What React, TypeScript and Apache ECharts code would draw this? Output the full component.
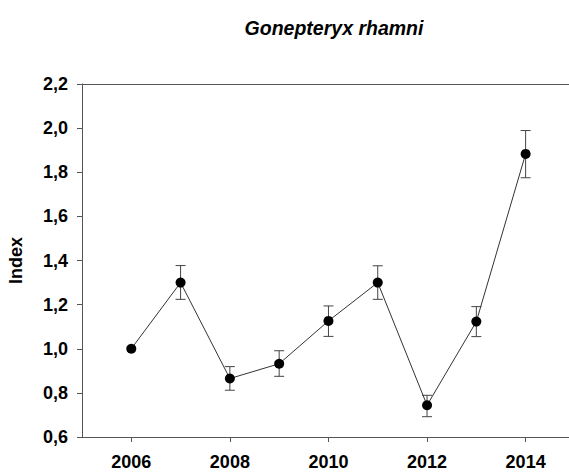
import React, { useEffect, useRef } from "react";
import * as echarts from "echarts";

const years = [2006, 2007, 2008, 2009, 2010, 2011, 2012, 2013, 2014];
const indexValues = [1.0, 1.3, 0.865, 0.932, 1.126, 1.3, 0.744, 1.123, 1.883];
const errLow = [1.0, 1.224, 0.812, 0.875, 1.056, 1.224, 0.692, 1.055, 1.775];
const errHigh = [1.0, 1.377, 0.919, 0.991, 1.194, 1.376, 0.789, 1.191, 1.989];
const xTickValues = [2006, 2008, 2010, 2012, 2014];
const xMin = 2005;
const xMax = 2014.88;
const titleText = "Gonepteryx rhamni";
const yAxisName = "Index";

const FONT = "'Liberation Sans', Arial, sans-serif";

export default function App() {
  const ref = useRef<HTMLDivElement>(null);
  useEffect(() => {
    if (!ref.current) return;
    const chart = echarts.init(ref.current, undefined, { renderer: "svg" });
    const errData = years
      .map((y, i) => [y, errLow[i], errHigh[i]])
      .filter((d) => d[2] - d[1] > 0.001);
    chart.setOption({
      animation: false,
      backgroundColor: "#ffffff",
      title: {
        text: titleText,
        left: 329,
        top: 13,
        textAlign: "center",
        textStyle: {
          fontFamily: FONT,
          fontSize: 19.5,
          fontWeight: "bold",
          fontStyle: "italic",
          color: "#000",
        },
      },
      grid: {
        left: 82,
        top: 84,
        right: 0,
        bottom: 38,
        containLabel: false,
        outerBoundsMode: "none",
        show: false,
      },
      xAxis: [
        {
          type: "value",
          min: xMin,
          max: xMax,
          splitLine: { show: false },
          axisLine: { show: true, lineStyle: { color: "#555", width: 1 } },
          axisTick: {
            show: true,
            customValues: xTickValues,
            length: 5,
            lineStyle: { color: "#555" },
          },
          axisLabel: {
            customValues: xTickValues,
            margin: 16,
            fontFamily: FONT,
            fontSize: 18,
            fontWeight: "bold",
            color: "#000",
            formatter: (v: number) => String(v),
          },
        },
        {
          type: "value",
          position: "top",
          min: xMin,
          max: xMax,
          splitLine: { show: false },
          axisLine: { show: true, onZero: false, lineStyle: { color: "#555", width: 1 } },
          axisTick: { show: false },
          axisLabel: { show: false },
        },
      ],
      yAxis: {
        type: "value",
        min: 0.6,
        max: 2.2,
        interval: 0.2,
        name: yAxisName,
        nameLocation: "middle",
        nameGap: 57,
        nameTextStyle: {
          fontFamily: FONT,
          fontSize: 18,
          fontWeight: "bold",
          color: "#000",
        },
        splitLine: { show: false },
        axisLine: { show: true, lineStyle: { color: "#555", width: 1 } },
        axisTick: { show: true, length: 5, lineStyle: { color: "#555" } },
        axisLabel: {
          margin: 14,
          fontFamily: FONT,
          fontSize: 18,
          fontWeight: "bold",
          color: "#000",
          formatter: (v: number) => v.toFixed(1).replace(".", ","),
        },
      },
      series: [
        {
          type: "custom",
          data: errData,
          z: 1,
          renderItem: (params: any, api: any) => {
            const x = api.value(0);
            const lo = api.coord([x, api.value(1)]);
            const hi = api.coord([x, api.value(2)]);
            const hw = 5;
            const style = { stroke: "#444", lineWidth: 1, fill: "none" };
            return {
              type: "group",
              children: [
                { type: "line", shape: { x1: lo[0], y1: lo[1], x2: hi[0], y2: hi[1] }, style },
                { type: "line", shape: { x1: lo[0] - hw, y1: lo[1], x2: lo[0] + hw, y2: lo[1] }, style },
                { type: "line", shape: { x1: hi[0] - hw, y1: hi[1], x2: hi[0] + hw, y2: hi[1] }, style },
              ],
            };
          },
        },
        {
          type: "line",
          data: years.map((y, i) => [y, indexValues[i]]),
          z: 2,
          symbol: "circle",
          symbolSize: 10,
          lineStyle: { color: "#333", width: 1 },
          itemStyle: { color: "#000" },
        },
      ],
    });
    return () => chart.dispose();
  }, []);
  return (
    <div
      ref={ref}
      style={{ position: "fixed", left: 0, top: 0, width: 569, height: 475 }}
    />
  );
}
